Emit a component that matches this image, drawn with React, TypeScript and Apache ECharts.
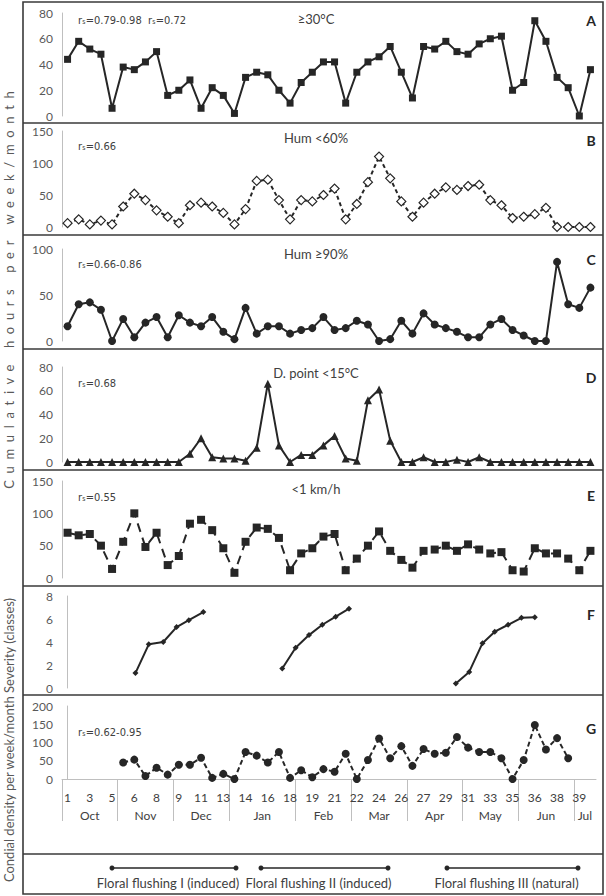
import React, { useEffect, useRef } from "react";
import * as echarts from "echarts";

// ---------- data ----------
const weekLabels = ["1", "3", "5", "6", "8", "9", "11", "13", "14", "16", "18", "19", "21", "22", "24", "26", "27", "29", "31", "33", "35", "36", "38", "39"];
const months = ["Oct", "Nov", "Dec", "Jan", "Feb", "Mar", "Apr", "May", "Jun", "Jul"];
const monthWeekCounts = [5, 5, 5, 6, 5, 5, 5, 5, 5, 2];

const hoursAbove30C = [44, 58, 52, 48, 6, 38, 36, 42, 50, 16, 20, 28, 6, 22, 16, 2, 30, 34, 32, 20, 10, 26, 34, 42, 42, 10, 34, 42, 46, 54, 34, 14, 54, 52, 58, 50, 48, 56, 60, 62, 20, 26, 74, 58, 30, 22, 0, 36];
const hoursHumBelow60 = [6, 12, 4, 10, 4, 32, 52, 42, 26, 16, 6, 34, 38, 32, 22, 4, 28, 72, 74, 42, 12, 42, 40, 50, 60, 12, 36, 70, 110, 76, 40, 16, 38, 52, 62, 58, 64, 66, 42, 34, 14, 16, 20, 30, 0, 0, 0, 0];
const hoursHumAbove90 = [16, 40, 42, 34, 0, 24, 4, 20, 26, 4, 28, 20, 16, 26, 10, 2, 36, 8, 16, 16, 8, 12, 14, 26, 12, 14, 22, 18, 0, 2, 22, 8, 30, 18, 14, 10, 4, 4, 18, 24, 12, 6, 0, 0, 86, 40, 36, 58];
const hoursDewPointBelow15 = [0, 0, 0, 0, 0, 0, 0, 0, 0, 0, 0, 7, 20, 4, 3, 3, 1, 12, 66, 14, 0, 6, 6, 14, 22, 3, 1, 52, 61, 18, 0, 0, 4, 0, 0, 2, 0, 4, 0, 0, 0, 0, 0, 0, 0, 0, 0, 0];
const hoursWindBelow1 = [70, 66, 68, 50, 14, 56, 100, 48, 70, 20, 34, 84, 90, 74, 46, 8, 56, 78, 76, 62, 12, 38, 46, 64, 68, 12, 30, 50, 72, 42, 28, 16, 42, 44, 50, 42, 52, 44, 38, 40, 12, 10, 46, 38, 38, 30, 12, 42];

const severityFlush1Week = [6.1, 7.3, 8.6, 9.8, 10.9, 12.2];
const severityFlush1 = [1.3, 3.8, 4.0, 5.3, 5.9, 6.6];
const severityFlush2Week = [19.3, 20.5, 21.7, 22.9, 24.1, 25.3];
const severityFlush2 = [1.7, 3.5, 4.6, 5.5, 6.2, 6.9];
const severityFlush3Week = [34.9, 36.1, 37.3, 38.4, 39.6, 40.8, 42.0];
const severityFlush3 = [0.4, 1.4, 3.9, 4.9, 5.5, 6.1, 6.15];

const conidialDensity = [null, null, null, null, null, 45, 53, 8, 31, 12, 39, 39, 58, 3, 14, 0, 74, 64, 45, 74, 3, 24, 5, 27, 20, 69, 0, 52, 111, 57, 90, 36, 82, 69, 72, 115, 86, 74, 74, 57, 0, 52, 148, 81, 112, 57, null, null];

const panelTitles = ["≥30°C", "Hum <60%", "Hum ≥90%", "D. point <15°C", "<1 km/h", "", ""];
const panelLetters = ["A", "B", "C", "D", "E", "F", "G"];
const panelCorr = ["rₛ=0.79-0.98  rₛ=0.72", "rₛ=0.66", "rₛ=0.66-0.86", "rₛ=0.68", "rₛ=0.55", "", "rₛ=0.62-0.95"];
const yMax = [80, 150, 100, 80, 150, 8, 200];
const yStep = [20, 50, 50, 20, 50, 2, 50];
const flushingLabels = ["Floral flushing I (induced)", "Floral flushing II (induced)", "Floral flushing III (natural)"];
const leftTitleWords = ["Cumulative", "hours", "per", "week/month"];
const leftTitle2 = "Condial density per week/month Severity (classes)";

// ---------- layout ----------
const W = 606;
const H = 896;
const GRID_LEFT = 62;
const GRID_RIGHT = 10;
const gridTops = [13, 131, 249, 367, 481, 596, 706];
const gridHeights = [103, 96, 92, 95, 97, 92, 73];
const dividers = [123, 235, 349, 470, 586, 695, 854];
const titleY = [19, 138, 254, 373, 489, 0, 0];
const letterY = [20, 140, 259, 377, 495, 614, 728];
const corrY = [20, 146, 264, 383, 497, 0, 732];
const FRAME_L = 23;
const FRAME_R = 603;
const FRAME_T = 2;
const FRAME_B = 894;

const INK = "#262626";
const AXIS_GREY = "#bfbfbf";
const LABEL = "#595959";
const FONT = "Lato, 'Open Sans', sans-serif";
const NARROW = "'Liberation Sans Narrow', 'DejaVu Sans Condensed', sans-serif";
const NB = "\u00A0";

const categories = hoursAbove30C.map((_, i) => String(i));

const monthBoundaries: number[] = [];
const monthCenters: number[] = [];
{
  let start = -0.5;
  monthWeekCounts.forEach((c) => {
    monthBoundaries.push(start);
    monthCenters.push(start + c / 2);
    start += c;
  });
}

function buildOption() {
  const grid = gridTops.map((t, i) => ({
    left: GRID_LEFT,
    right: GRID_RIGHT,
    top: t,
    height: gridHeights[i],
    containLabel: false,
  }));

  const xAxis: any[] = [];
  for (let i = 0; i < 7; i++) {
    if (i === 5) {
      xAxis.push({ type: "value", gridIndex: 5, min: -0.5, max: 47.5, show: false });
    } else if (i === 6) {
      xAxis.push({
        type: "category",
        gridIndex: 6,
        data: categories,
        boundaryGap: true,
        axisLine: { show: true, lineStyle: { color: AXIS_GREY, width: 1 } },
        axisTick: { show: false },
        axisLabel: {
          interval: 0,
          margin: 12,
          color: "#404040",
          fontSize: 12,
          fontFamily: FONT,
          formatter: (_v: string, idx: number) => (idx % 2 === 0 ? weekLabels[idx / 2] : ""),
        },
      });
    } else {
      xAxis.push({ type: "category", gridIndex: i, data: categories, boundaryGap: true, show: false });
    }
  }
  // month axis (separators + month names)
  xAxis.push({
    type: "value",
    gridIndex: 6,
    position: "bottom",
    min: -0.5,
    max: 47.5,
    axisLine: { show: false },
    splitLine: { show: false },
    axisTick: { show: true, length: 42, customValues: monthBoundaries, lineStyle: { color: AXIS_GREY, width: 1 } },
    axisLabel: {
      customValues: monthCenters,
      margin: 30,
      color: "#404040",
      fontSize: 12,
      fontFamily: FONT,
      formatter: (v: number) => {
        const k = monthCenters.findIndex((c) => Math.abs(c - v) < 0.01);
        return k >= 0 ? months[k] : "";
      },
    },
  });

  const yAxis = yMax.map((m, i) => ({
    type: "value",
    gridIndex: i,
    min: 0,
    max: m,
    interval: yStep[i],
    axisLine: { show: true, lineStyle: { color: AXIS_GREY, width: 1 } },
    axisTick: { show: false },
    splitLine: { show: false },
    axisLabel: { color: LABEL, fontSize: 12, fontFamily: FONT, margin: 9 },
  }));

  const lineSeries = (idx: number, data: any[], symbol: string, size: number, opts: any = {}) => ({
    type: "line",
    xAxisIndex: idx,
    yAxisIndex: idx,
    data,
    symbol,
    symbolSize: size,
    showAllSymbol: true,
    lineStyle: { color: INK, width: 2, type: opts.dash || "solid" },
    itemStyle: { color: opts.fill || INK, borderColor: INK, borderWidth: opts.border || 0 },
    emphasis: { disabled: true },
    z: 3,
  });

  const fSeries = (xs: number[], ys: number[]) => ({
    type: "line",
    xAxisIndex: 5,
    yAxisIndex: 5,
    data: xs.map((x, i) => [x, ys[i]]),
    symbol: "diamond",
    symbolSize: 6,
    lineStyle: { color: INK, width: 2 },
    itemStyle: { color: INK },
    emphasis: { disabled: true },
  });

  const series = [
    lineSeries(0, hoursAbove30C, "rect", 7),
    lineSeries(1, hoursHumBelow60, "diamond", 9, { dash: [4, 3], fill: "#ffffff", border: 1.2 }),
    lineSeries(2, hoursHumAbove90, "circle", 8),
    lineSeries(3, hoursDewPointBelow15, "triangle", 8),
    lineSeries(4, hoursWindBelow1, "rect", 8, { dash: [9, 6] }),
    fSeries(severityFlush1Week, severityFlush1),
    fSeries(severityFlush2Week, severityFlush2),
    fSeries(severityFlush3Week, severityFlush3),
    lineSeries(6, conidialDensity, "circle", 8, { dash: [5, 3] }),
  ];

  const graphic: any[] = [];
  graphic.push({
    type: "rect",
    shape: { x: FRAME_L, y: FRAME_T, width: FRAME_R - FRAME_L, height: FRAME_B - FRAME_T },
    style: { fill: "none", stroke: "#3a3a3a", lineWidth: 1.6 },
    silent: true,
  });
  dividers.forEach((y) =>
    graphic.push({
      type: "line",
      shape: { x1: FRAME_L, y1: y, x2: FRAME_R, y2: y },
      style: { stroke: "#3a3a3a", lineWidth: 1.6 },
      silent: true,
    })
  );
  panelTitles.forEach((t, i) => {
    if (!t) return;
    graphic.push({
      type: "text",
      x: 316,
      y: titleY[i],
      style: { text: t, align: "center", verticalAlign: "middle", fill: "#404040", fontSize: 13, fontFamily: FONT },
      silent: true,
    });
  });
  panelLetters.forEach((t, i) =>
    graphic.push({
      type: "text",
      x: 591,
      y: letterY[i],
      style: { text: t, align: "center", verticalAlign: "middle", fill: INK, fontSize: 14, fontWeight: "bold", fontFamily: FONT },
      silent: true,
    })
  );
  panelCorr.forEach((t, i) => {
    if (!t) return;
    graphic.push({
      type: "text",
      x: 78,
      y: corrY[i],
      style: { text: t.replace(/ /g, NB), align: "left", verticalAlign: "middle", fill: "#404040", fontSize: 11, fontFamily: NARROW },
      silent: true,
    });
  });
  // left axis titles (letter-spaced as in the original)
  const spaced = leftTitleWords.map((w) => w.split("").join(NB.repeat(2))).join(NB.repeat(5));
  graphic.push({
    type: "text",
    x: 9,
    y: 290,
    rotation: Math.PI / 2,
    style: {
      text: spaced,
      align: "center",
      verticalAlign: "middle",
      fill: LABEL,
      fontSize: 13,
      fontFamily: FONT,
    },
    silent: true,
  });
  graphic.push({
    type: "text",
    x: 9,
    y: 740,
    rotation: Math.PI / 2,
    style: {
      text: leftTitle2,
      align: "center",
      verticalAlign: "middle",
      fill: LABEL,
      fontSize: 13,
      fontFamily: FONT,
    },
    silent: true,
  });
  // flushing legend
  const flushSpans = [
    [112, 236],
    [261, 388],
    [447, 578],
  ];
  flushSpans.forEach(([a, b], i) => {
    graphic.push({ type: "line", shape: { x1: a, y1: 868, x2: b, y2: 868 }, style: { stroke: INK, lineWidth: 1.5 }, silent: true });
    graphic.push({ type: "circle", shape: { cx: a, cy: 868, r: 2.5 }, style: { fill: INK }, silent: true });
    graphic.push({ type: "circle", shape: { cx: b, cy: 868, r: 2.5 }, style: { fill: INK }, silent: true });
    graphic.push({
      type: "text",
      x: (a + b) / 2 - 6,
      y: 883,
      style: { text: flushingLabels[i], align: "center", verticalAlign: "middle", fill: "#404040", fontSize: 13, fontFamily: FONT },
      silent: true,
    });
  });

  return {
    animation: false,
    backgroundColor: "#ffffff",
    grid,
    xAxis,
    yAxis,
    series,
    graphic,
  };
}

export default function App() {
  const ref = useRef<HTMLDivElement>(null);
  useEffect(() => {
    document.body.style.margin = "0";
    if (!ref.current) return;
    const chart = echarts.init(ref.current, null, { renderer: "svg" });
    chart.setOption(buildOption() as any);
    return () => chart.dispose();
  }, []);
  return <div ref={ref} style={{ width: W, height: H }} />;
}
